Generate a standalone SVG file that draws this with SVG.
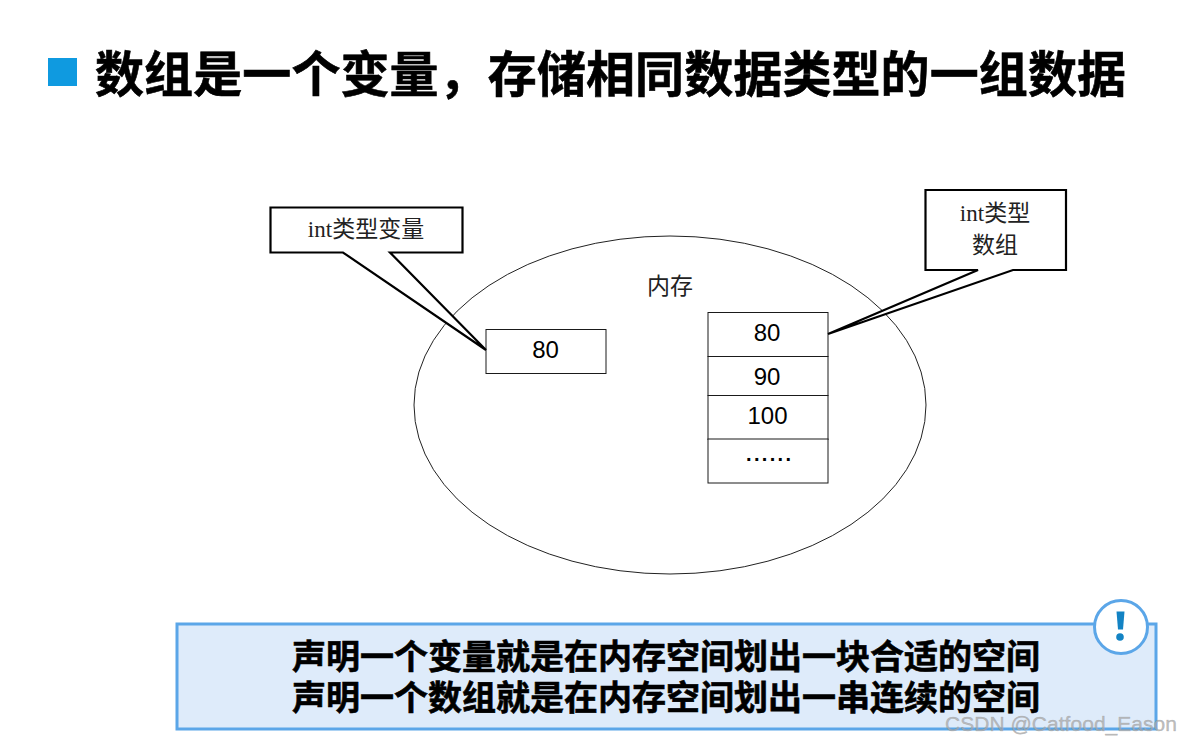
<svg xmlns="http://www.w3.org/2000/svg" width="1180" height="744" viewBox="0 0 1180 744">
<style>
.box{fill:#fff;stroke:#1a1a1a;stroke-width:1}
.call{fill:#fff;stroke:#000;stroke-width:2.200;stroke-linejoin:miter}
.num{font-family:"Liberation Sans",Arial,sans-serif;font-size:24px;fill:#000;text-anchor:middle}
.ser{font-family:"Liberation Serif","Noto Sans CJK SC",serif;font-size:23px;fill:#222;text-anchor:middle}
.h{font-family:"Noto Sans CJK SC","Liberation Sans",sans-serif;font-weight:700;fill:#000;stroke:#000;stroke-width:.6}
</style>
<rect width="1180" height="744" fill="#fff"/>
<g id="title">
<rect x="48" y="58" width="29" height="28" fill="#0f9ae0"/>
<text class="h" x="95" y="92" font-size="49" textLength="1031" lengthAdjust="spacing">数组是一个变量，存储相同数据类型的一组数据</text>
</g>
<g id="memory">
<ellipse cx="670" cy="405" rx="256" ry="169" fill="#fff" stroke="#222" stroke-width="1"/>
<text class="ser" x="670" y="294">内存</text>
</g>
<g id="var-box">
<rect class="box" x="486" y="329.500" width="120" height="44"/>
<text class="num" x="545.500" y="358">80</text>
</g>
<g id="array-box">
<rect class="box" x="708" y="312.500" width="120" height="44"/>
<text class="num" x="767" y="341">80</text>
<rect class="box" x="708" y="356.500" width="120" height="39"/>
<text class="num" x="767" y="385">90</text>
<rect class="box" x="708" y="395.500" width="120" height="44"/>
<text class="num" x="767.500" y="424">100</text>
<rect class="box" x="708" y="439" width="120" height="44"/>
<text x="746" y="461" font-family="'Liberation Sans',Arial,sans-serif" font-weight="700" font-size="20" fill="#000" textLength="45" lengthAdjust="spacing">......</text>
</g>
<g id="connectors">
<path class="call" d="M270.500 207.500H462.500V252.500H390L486 350L343 252.500H270.500Z"/>
<path class="call" d="M925.500 190H1066V270H1013L828 334L978 270H925.500Z"/>
</g>
<g id="callout-var">
<text class="ser" x="366" y="237">int类型变量</text>
</g>
<g id="callout-array">
<text class="ser" x="995" y="221">int类型</text>
<text class="ser" x="995" y="253">数组</text>
</g>
<g id="note">
<rect x="177" y="624" width="979" height="105" fill="#deebfa" stroke="#5ba6e8" stroke-width="3"/>
<text class="h" x="292" y="669" font-size="34" textLength="748" lengthAdjust="spacing">声明一个变量就是在内存空间划出一块合适的空间</text>
<text class="h" x="292" y="710" font-size="34" textLength="748" lengthAdjust="spacing">声明一个数组就是在内存空间划出一串连续的空间</text>
<circle cx="1121" cy="627" r="26.500" fill="#fff" stroke="#5ba6e8" stroke-width="3"/>
<path d="M1116.500 611.500h8l-1.500 18h-5z" fill="#1383c4"/>
<circle cx="1120" cy="637" r="3.800" fill="#1383c4"/>
</g>
<text id="watermark" x="945" y="731" font-family="'Liberation Sans',Arial,sans-serif" font-size="21" fill="#aaa" fill-opacity="0.75" stroke="#888" stroke-opacity="0.4" stroke-width="0.5" textLength="232">CSDN @Catfood_Eason</text>
</svg>
